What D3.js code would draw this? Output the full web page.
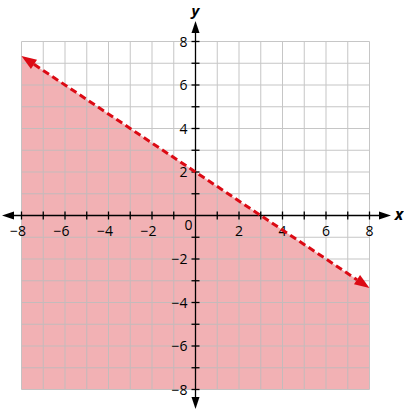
<!DOCTYPE html>
<html>
<head>
<meta charset="utf-8">
<script src="https://cdn.jsdelivr.net/npm/d3@7"></script>
<style>
  html, body { margin: 0; padding: 0; background: #fff; }
  svg { display: block; font-family: "Open Sans", "Noto Sans", sans-serif; }
</style>
</head>
<body>
<svg id="chart" width="404" height="411"></svg>
<script>
// grid + tick values
const gridValues = d3.range(-8, 9);
const labelValues = [-8, -6, -4, -2, 2, 4, 6, 8];

// boundary line y = -2/3 x + 2, drawn dashed (strict inequality)
const lineX = [-8, 8];
const lineY = [22 / 3, -10 / 3];

const svg = d3.select('#chart');
const x = d3.scaleLinear().domain([-8, 8]).range([21.5, 369.5]);
const y = d3.scaleLinear().domain([-8, 8]).range([389.5, 41.5]);

const linePts = lineX.map((v, i) => [v, lineY[i]]);

// shaded region below the line
const region = [
  [x(-8), y(-8)],
  [x(-8), y(lineY[0])],
  [x(8), y(lineY[1])],
  [x(8), y(-8)]
];
svg.append('path')
  .attr('d', d3.line()(region) + 'Z')
  .attr('fill', '#f2b1b4');

// grid
const grid = svg.append('g').attr('stroke', '#bdbdbd').attr('stroke-width', 1).attr('opacity', 0.85);
grid.selectAll('.gv').data(gridValues).join('line')
  .attr('x1', (d) => x(d)).attr('x2', (d) => x(d))
  .attr('y1', y(8)).attr('y2', y(-8));
grid.selectAll('.gh').data(gridValues).join('line')
  .attr('class', 'gh')
  .attr('y1', (d) => y(d)).attr('y2', (d) => y(d))
  .attr('x1', x(-8)).attr('x2', x(8));

// axes
const axes = svg.append('g').attr('stroke', '#000').attr('stroke-width', 1.3);
axes.append('line').attr('x1', 10).attr('x2', 384).attr('y1', y(0)).attr('y2', y(0));
axes.append('line').attr('x1', x(0)).attr('x2', x(0)).attr('y1', 28).attr('y2', 402);

const arrows = svg.append('g').attr('fill', '#000');
const ax0 = y(0), ay0 = x(0);
arrows.append('path').attr('d', `M2,${ax0} L14,${ax0 - 4} L14,${ax0 + 4} Z`);
arrows.append('path').attr('d', `M391,${ax0} L379,${ax0 - 4} L379,${ax0 + 4} Z`);
arrows.append('path').attr('d', `M${ay0},21 L${ay0 - 4},33 L${ay0 + 4},33 Z`);
arrows.append('path').attr('d', `M${ay0},409 L${ay0 - 4},397 L${ay0 + 4},397 Z`);

// tick marks on axes
const ticks = svg.append('g').attr('stroke', '#000').attr('stroke-width', 1.3);
ticks.selectAll('.tx').data(gridValues.filter((d) => d !== 0)).join('line')
  .attr('x1', (d) => x(d)).attr('x2', (d) => x(d))
  .attr('y1', ax0 - 4).attr('y2', ax0 + 4);
ticks.selectAll('.ty').data(gridValues.filter((d) => d !== 0)).join('line')
  .attr('class', 'ty')
  .attr('y1', (d) => y(d)).attr('y2', (d) => y(d))
  .attr('x1', ay0 - 4).attr('x2', ay0 + 4);

const fmt = (d) => (d < 0 ? '\u2212' + Math.abs(d) : String(d));

// tick labels
const labels = svg.append('g').attr('font-size', 14).attr('fill', '#000');
labels.selectAll('.lx').data(labelValues).join('text')
  .attr('x', (d) => (d < 0 ? x(d) + 4.5 : x(d)))
  .attr('y', ax0 + 20)
  .attr('text-anchor', (d) => (d < 0 ? 'end' : 'middle'))
  .text(fmt);
labels.selectAll('.ly').data(labelValues).join('text')
  .attr('class', 'ly')
  .attr('x', ay0 - 8)
  .attr('y', (d) => y(d) + 5)
  .attr('text-anchor', 'end')
  .text(fmt);
labels.append('text').attr('x', ay0 - 7).attr('y', ax0 + 14).attr('text-anchor', 'middle').text('0');

// axis titles
svg.append('text').attr('x', ay0).attr('y', 16).attr('text-anchor', 'middle')
  .attr('font-size', 15).attr('font-style', 'italic').attr('font-weight', 'bold').text('y');
svg.append('text').attr('x', 399).attr('y', ax0 + 4).attr('text-anchor', 'middle')
  .attr('font-size', 16).attr('font-style', 'italic').attr('font-weight', 'bold').text('x');

// dashed boundary line with arrowheads
const red = '#dc0a14';
const p0 = [x(linePts[0][0]), y(linePts[0][1])];
const p1 = [x(linePts[1][0]), y(linePts[1][1])];
const dx = p1[0] - p0[0], dy = p1[1] - p0[1];
const len = Math.hypot(dx, dy);
const ux = dx / len, uy = dy / len;
const head = 15, half = 5.5;
svg.append('line')
  .attr('x1', p0[0] + ux * head).attr('y1', p0[1] + uy * head)
  .attr('x2', p1[0] - ux * head).attr('y2', p1[1] - uy * head)
  .attr('stroke', red).attr('stroke-width', 3)
  .attr('stroke-dasharray', '7,4');
const headPath = (tip, dir) => {
  const bx = tip[0] - dir[0] * head, by = tip[1] - dir[1] * head;
  return `M${tip[0]},${tip[1]} L${bx - dir[1] * half},${by + dir[0] * half} L${bx + dir[1] * half},${by - dir[0] * half} Z`;
};
svg.append('path').attr('d', headPath(p0, [-ux, -uy])).attr('fill', red);
svg.append('path').attr('d', headPath(p1, [ux, uy])).attr('fill', red);
</script>
</body>
</html>
